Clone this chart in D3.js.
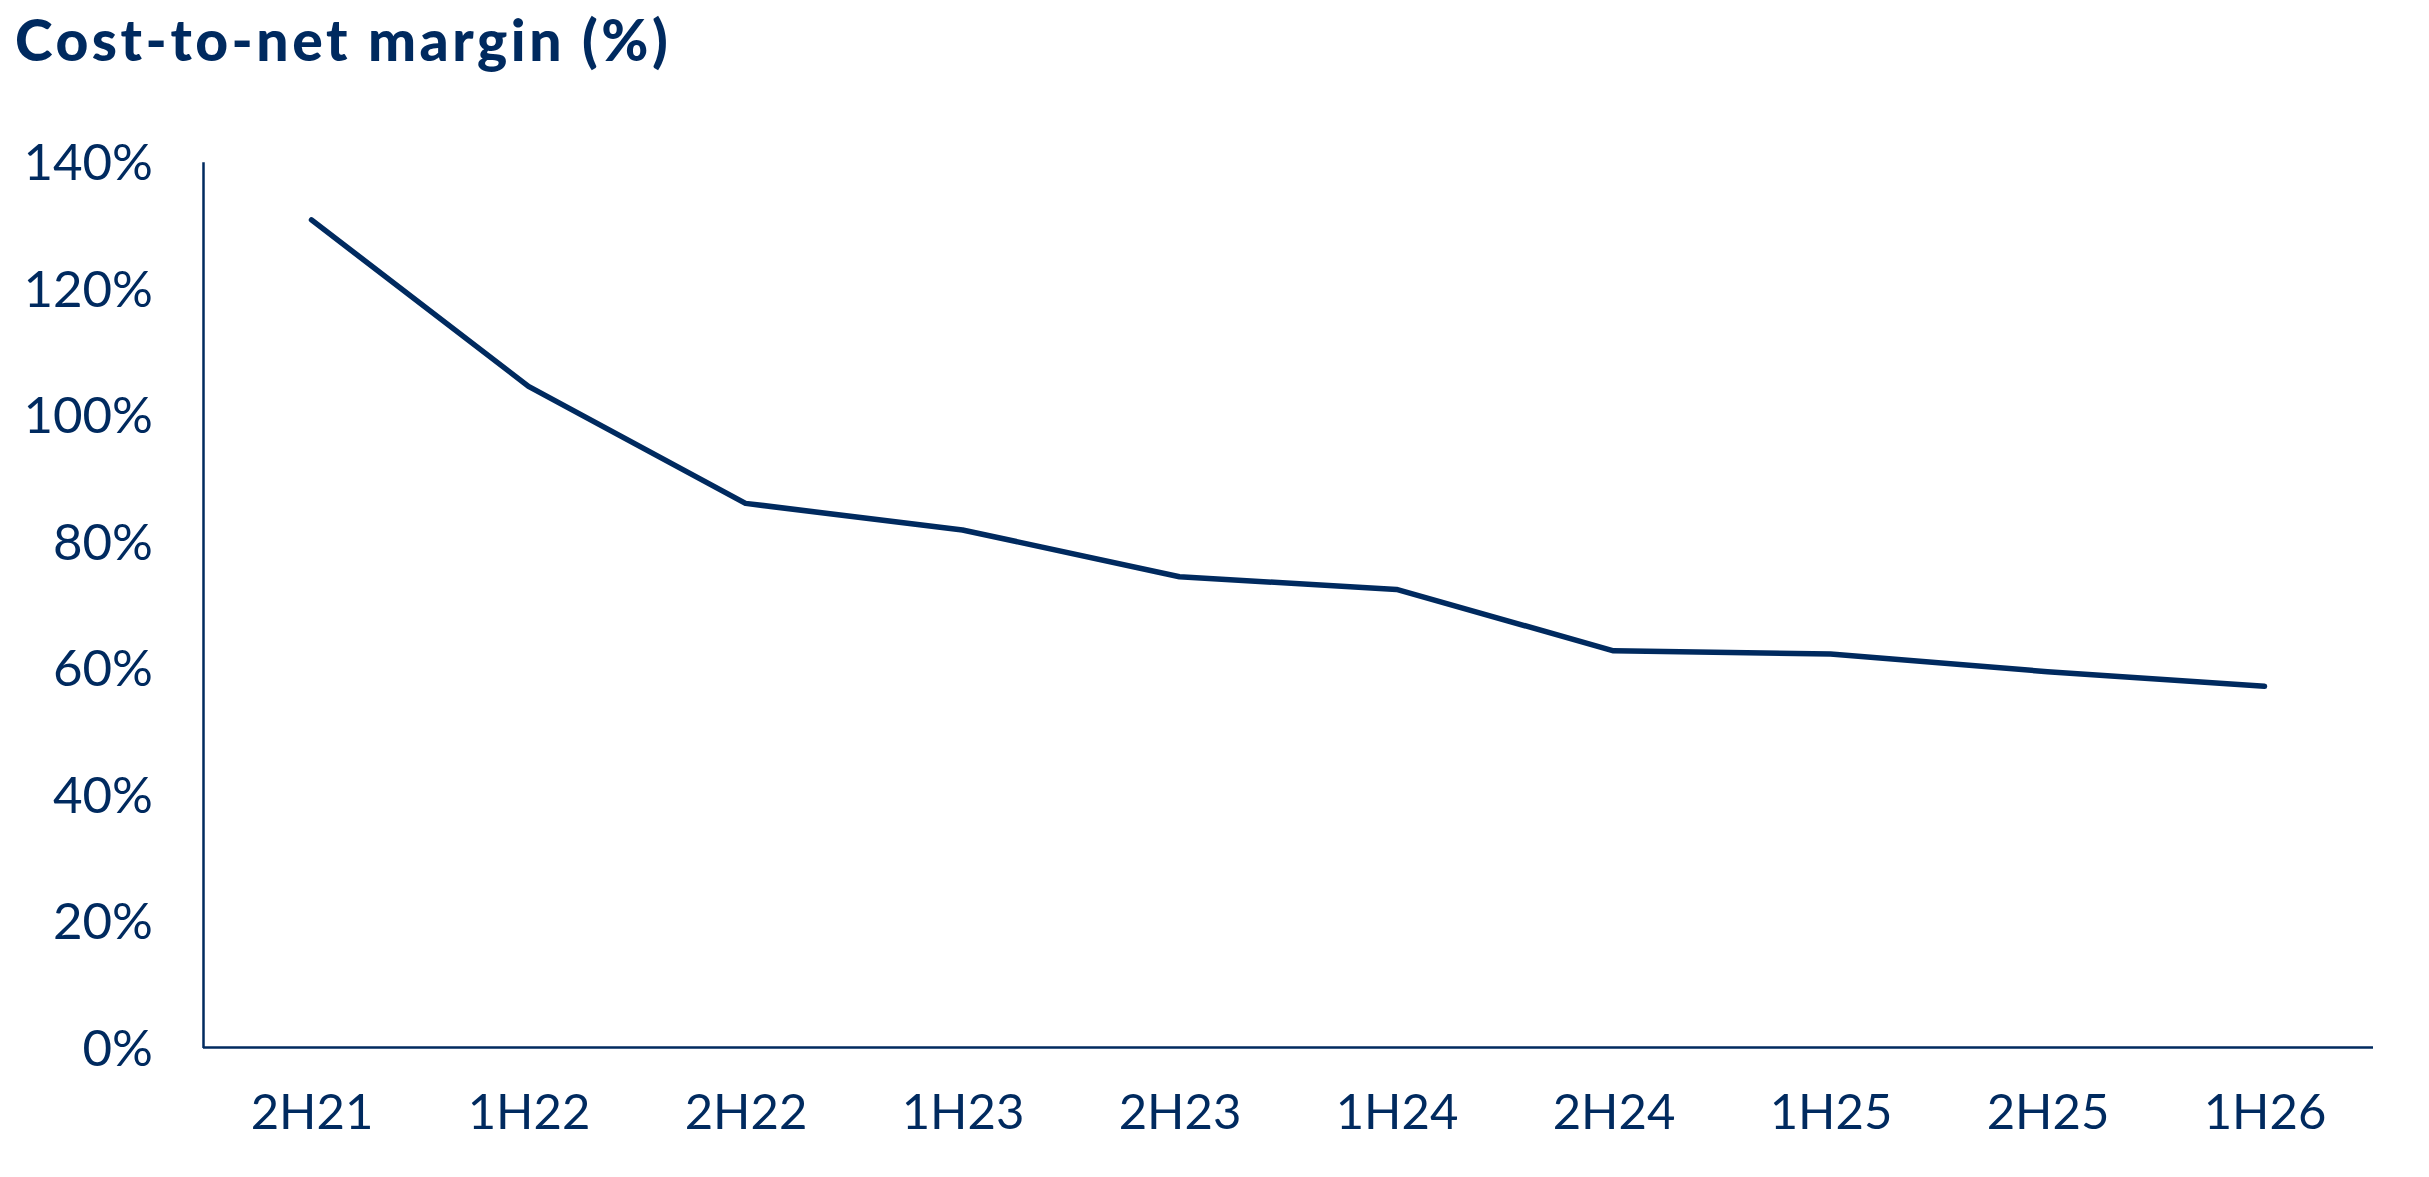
<!DOCTYPE html>
<html>
<head>
<meta charset="utf-8">
<script src="https://cdn.jsdelivr.net/npm/d3@7"></script>
<style>
  html, body { margin: 0; padding: 0; background: #ffffff; }
  svg { display: block; }
</style>
</head>
<body>
<svg id="chart" width="2429" height="1177"></svg>
<script>
const categories = ["2H21","1H22","2H22","1H23","2H23","1H24","2H24","1H25","2H25","1H26"];
const costToNet = [130.8, 104.5, 86.0, 81.8, 74.4, 72.4, 62.7, 62.2, 59.4, 57.1];
const yTicks = [0, 20, 40, 60, 80, 100, 120, 140];
const titleText = "Cost-to-net margin (%)";

const NAVY = "#002a5f";
const FONT = "Lato, 'Open Sans', sans-serif";

const svg = d3.select("#chart");
const plotLeft = 203, plotRight = 2373, plotTop = 161.7, plotBottom = 1047.5;

const x = d3.scalePoint().domain(categories).range([plotLeft, plotRight]).padding(0.5);
const y = d3.scaleLinear().domain([0, 140]).range([plotBottom, plotTop]);

svg.append("text")
  .attr("x", 15).attr("y", 61)
  .attr("fill", NAVY)
  .style("font-family", FONT)
  .style("font-weight", 900)
  .style("font-size", "57px")
  .style("letter-spacing", "3.5px")
  .text(titleText);

const yAxis = svg.append("g")
  .attr("transform", `translate(${plotLeft},0)`)
  .call(d3.axisLeft(y).tickValues(yTicks).tickSize(0).tickSizeOuter(0).tickPadding(50).tickFormat(d => d + "%"));
yAxis.select(".domain").attr("stroke", NAVY).attr("stroke-width", 2.5);
yAxis.selectAll("text")
  .attr("fill", NAVY)
  .attr("dy", "0.35em")
  .style("font-family", FONT)
  .style("font-size", "51px");

const xAxis = svg.append("g")
  .attr("transform", `translate(0,${plotBottom})`)
  .call(d3.axisBottom(x).tickSize(0).tickSizeOuter(0).tickPadding(0));
xAxis.select(".domain").attr("stroke", NAVY).attr("stroke-width", 2.5)
  .attr("d", `M${plotLeft},0H${plotRight}`);
xAxis.selectAll("text")
  .attr("fill", NAVY)
  .attr("y", 64)
  .attr("dy", "0.35em")
  .style("font-family", FONT)
  .style("font-size", "49px");

const line = d3.line()
  .x((d, i) => x(categories[i]))
  .y(d => y(d));

svg.append("path")
  .datum(costToNet)
  .attr("d", line)
  .attr("fill", "none")
  .attr("stroke", NAVY)
  .attr("stroke-width", 5.5)
  .attr("stroke-linecap", "round")
  .attr("stroke-linejoin", "round");
</script>
</body>
</html>
